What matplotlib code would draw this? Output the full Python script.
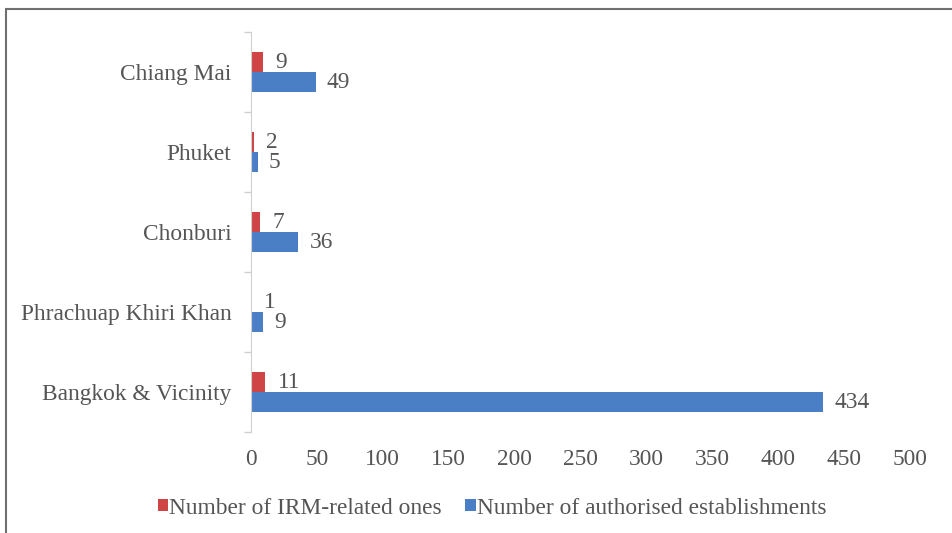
import matplotlib
matplotlib.use("Agg")
import matplotlib.pyplot as plt
import numpy as np
from matplotlib.patches import Rectangle

categories = ["Bangkok & Vicinity", "Phrachuap Khiri Khan", "Chonburi", "Phuket", "Chiang Mai"]
irm_related = [11, 1, 7, 2, 9]
authorised = [434, 9, 36, 5, 49]
x_ticks = [0, 50, 100, 150, 200, 250, 300, 350, 400, 450, 500]

RED = "#cf4444"
BLUE = "#4a7fc6"
TXT = "#555555"
FONT = "Liberation Serif"
FS = 16.8

W, H = 953, 533
fig = plt.figure(figsize=(W / 100, H / 100), dpi=100)
ax = fig.add_axes([251 / W, 1 - 432 / H, (910 - 251) / W, 400 / H])

y = np.arange(len(categories))
h = 0.25
ax.barh(y + h / 2, irm_related, height=h, color=RED, label="Number of IRM-related ones")
ax.barh(y - h / 2, authorised, height=h, color=BLUE, label="Number of authorised establishments")

for yi, v in zip(y, irm_related):
    ax.annotate(str(v), (v, yi + h / 2), xytext=(12, 0), textcoords="offset pixels",
                va="center", ha="left", fontsize=FS, family=FONT, color=TXT)
for yi, v in zip(y, authorised):
    ax.annotate(str(v), (v, yi - h / 2), xytext=(11, 0), textcoords="offset pixels",
                va="center", ha="left", fontsize=FS, family=FONT, color=TXT)

ax.set_xlim(0, 500)
ax.set_ylim(-0.5, len(categories) - 0.5)
ax.set_xticks(x_ticks)
ax.set_xticklabels([str(t) for t in x_ticks], fontsize=FS, family=FONT, color=TXT)
ax.set_yticks(y)
ax.set_yticklabels(categories, fontsize=FS, family=FONT, color=TXT)
ax.set_yticks(np.arange(-0.5, len(categories), 1.0), minor=True)
ax.tick_params(axis="y", which="major", length=0, pad=14)
ax.tick_params(axis="y", which="minor", length=5, color="#d0d0d0", width=1)
ax.tick_params(axis="x", length=0, pad=12)
for s in ["top", "right", "bottom"]:
    ax.spines[s].set_visible(False)
ax.spines["left"].set_color("#d0d0d0")

leg = fig.legend(loc="center", bbox_to_anchor=(492 / W, 1 - 508 / H), ncol=2, frameon=False,
                 prop={"family": FONT, "size": FS}, handlelength=0.45, handleheight=0.45,
                 handletextpad=0.05, columnspacing=1.0, labelcolor=TXT)

fig.patches.append(Rectangle((6 / W, -0.1), 1.2, 1 - 9 / H + 0.1, transform=fig.transFigure,
                             fill=False, edgecolor="#707070", linewidth=1.5))

fig.savefig("out.png", dpi=100)
